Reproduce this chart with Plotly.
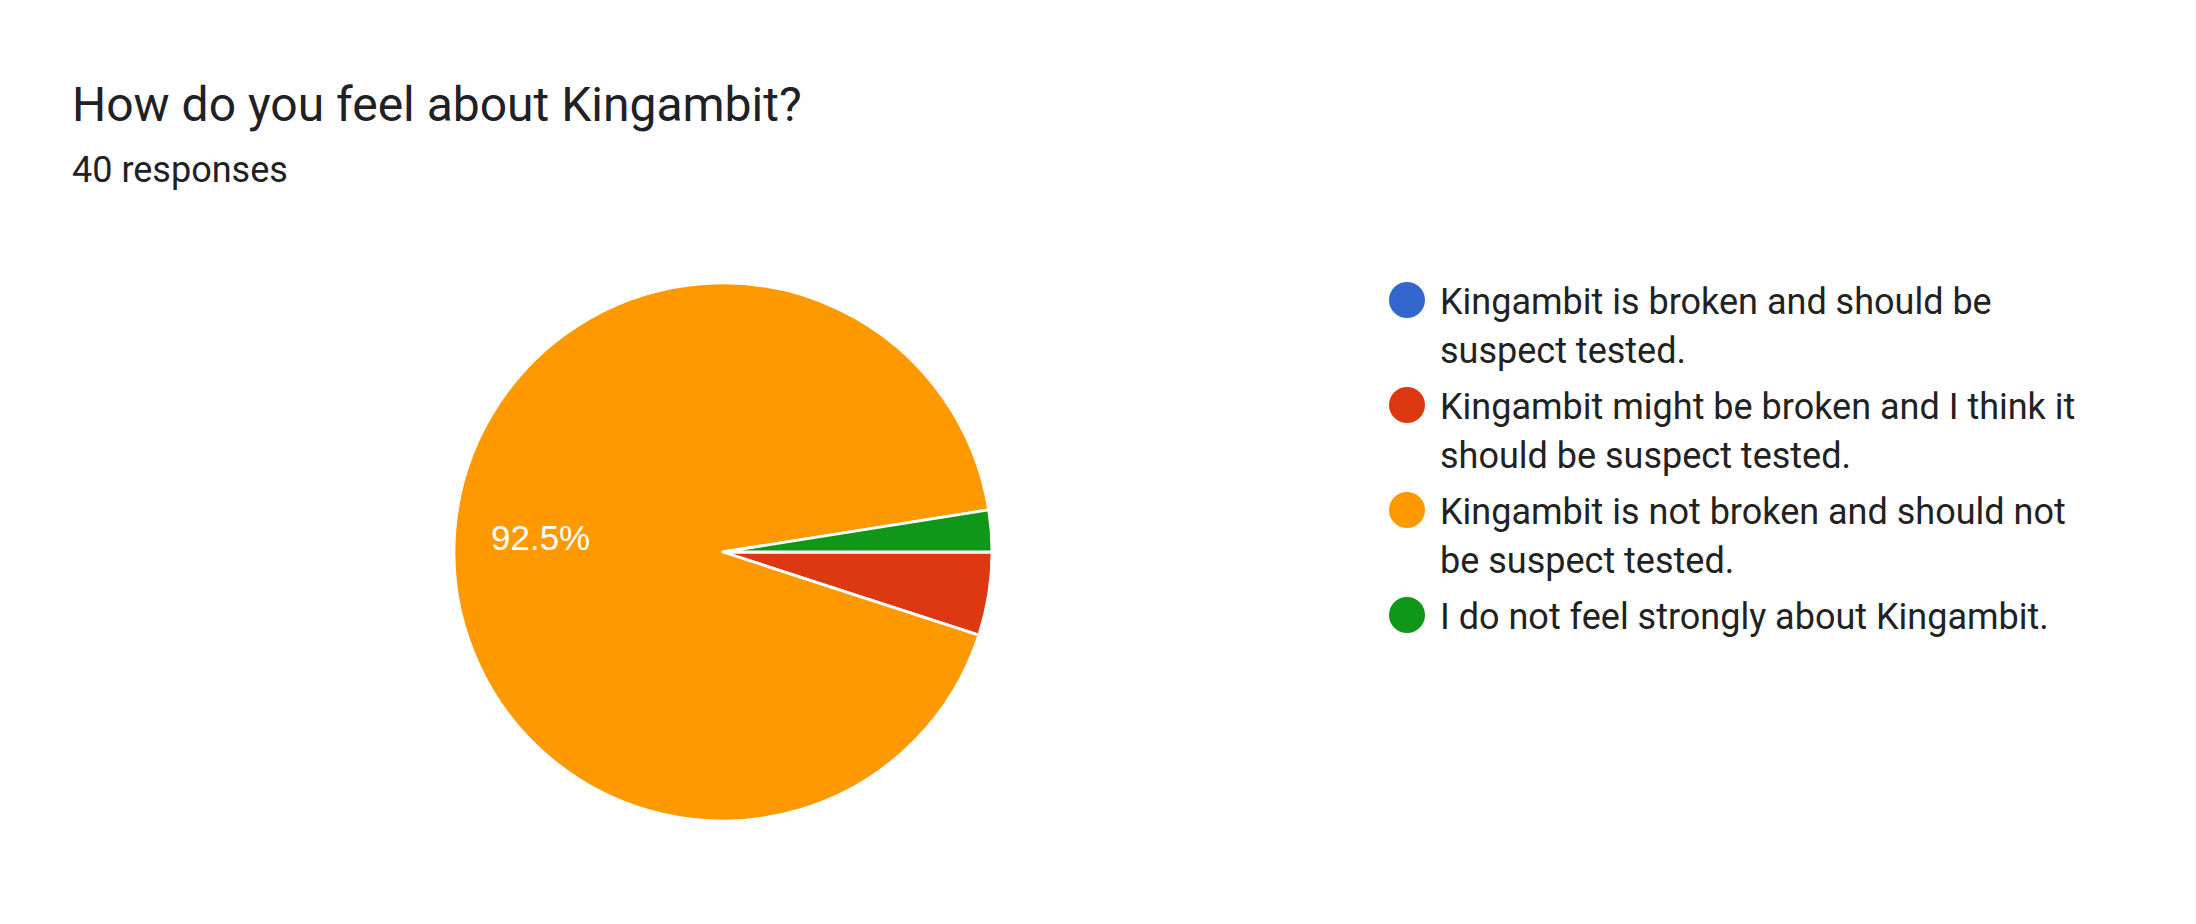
import math
import plotly.graph_objects as go

# survey answers, in the order the chart draws them
answers = [
    "Kingambit is broken and should be<br>suspect tested.",
    "Kingambit might be broken and I think it<br>should be suspect tested.",
    "Kingambit is not broken and should not<br>be suspect tested.",
    "I do not feel strongly about Kingambit.",
]
counts = [0, 2, 37, 1]
colors = ["#3366cc", "#dc3912", "#ff9900", "#109618"]

title = "How do you feel about Kingambit?"
total = sum(counts)
subtitle = f"{total} responses"

W, H = 2196, 924
OFF = 8  # page body margin pushes the plot div down/right

# pie box in pixels (screen) -> paper domain
cx, cy, r = 723 - OFF, 552 - OFF, 269
start_deg = 90  # first slice starts at 3 o'clock, going clockwise

pie = go.Pie(
    labels=[a.replace("<br>", " ") for a in answers],
    values=counts,
    textinfo="none",
    marker=dict(colors=colors, line=dict(color="white", width=2.8)),
    sort=False,
    direction="clockwise",
    rotation=start_deg,
    showlegend=False,
    hoverinfo="label+percent",
    domain=dict(x=[(cx - r) / W, (cx + r) / W], y=[1 - (cy + r) / H, 1 - (cy - r) / H]),
)

# hand-made legend: big round swatches like google charts
leg_x, leg_y0, leg_step = 1407 - OFF, 300 - OFF, 105
leg_y = [leg_y0 + leg_step * i for i in range(len(answers))]
legend_dots = go.Scatter(
    x=[leg_x] * len(answers), y=leg_y,
    mode="markers",
    marker=dict(size=36, color=colors, line=dict(width=0)),
    hoverinfo="skip",
    showlegend=False,
)

annotations = [
    dict(text=title, x=(70 - OFF) / W, y=1 - (105 - OFF) / H, xref="paper", yref="paper",
         xanchor="left", yanchor="middle", showarrow=False,
         font=dict(family="Roboto", size=48, color="#202124")),
    dict(text=subtitle, x=(70 - OFF) / W, y=1 - (170 - OFF) / H, xref="paper", yref="paper",
         xanchor="left", yanchor="middle", showarrow=False,
         font=dict(family="Roboto", size=36, color="#202124")),
]

# percent labels on slices big enough, placed along the slice's middle angle
acc = 0
for c in counts:
    share = c / total
    if share >= 0.1:
        mid = math.radians(start_deg + (acc + share / 2) * 360)
        annotations.append(dict(
            text=f"{share * 100:.1f}%",
            x=cx + 0.68 * r * math.sin(mid), y=cy - 0.68 * r * math.cos(mid),
            xref="x", yref="y", xanchor="center", yanchor="middle", showarrow=False,
            font=dict(family="Liberation Sans, Arial", size=35, color="white"),
        ))
    acc += share

line_gap = 49
for y, a in zip(leg_y, answers):
    for k, line in enumerate(a.split("<br>")):
        annotations.append(dict(
            text=line, x=1438 - OFF, y=y + 2 + k * line_gap, xref="x", yref="y",
            xanchor="left", yanchor="middle", showarrow=False,
            font=dict(family="Roboto", size=36, color="#222222"),
        ))

fig = go.Figure(data=[pie, legend_dots])
fig.update_layout(
    width=W, height=H, autosize=False,
    margin=dict(l=0, r=0, t=0, b=0),
    paper_bgcolor="white", plot_bgcolor="rgba(0,0,0,0)",
    xaxis=dict(range=[0, W], visible=False, fixedrange=True),
    yaxis=dict(range=[H, 0], visible=False, fixedrange=True),
    annotations=annotations,
)
fig.write_html("out.html")
